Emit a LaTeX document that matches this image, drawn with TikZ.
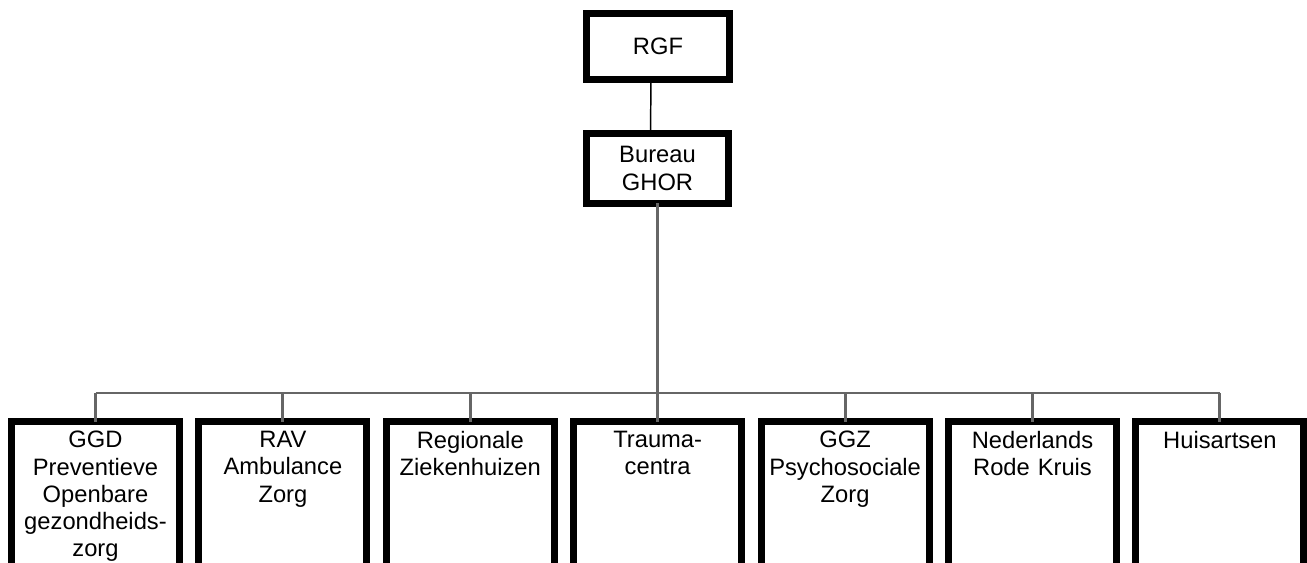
\documentclass[tikz,border=0pt]{standalone}
\usepackage{fontspec}
\setmainfont{Liberation Sans}
\usetikzlibrary{positioning}

\begin{document}
\begin{tikzpicture}[x=0.75pt,y=-0.75pt,font=\fontsize{17.8}{20.4}\selectfont,
    org/.style={draw=black, line width=5.25pt, fill=white, align=center, inner sep=0pt, outer sep=0pt},
    unit/.style={org, anchor=north, minimum width=126pt, text width=122pt, inner xsep=2pt, inner ysep=7.4pt, text depth=150pt},
    bus/.style={draw=black!60, line width=2.2pt},
    link/.style={draw=black, line width=1.1pt}]
  \useasboundingbox (0,0) rectangle (1307,563);
  \clip (0,0) rectangle (1307,563);
  % ---------- top ----------
  \node[org, minimum width=107pt, minimum height=49.5pt] (rgf)  at (658,46.5)  {RGF};
  \node[org, minimum width=106.5pt, minimum height=52.5pt] (ghor) at (657.5,168.5) {Bureau\\GHOR};
  % ---------- units ----------
  \node[unit] (ggd)    at (95.5,421.5)   {GGD\\Preventieve\\Openbare\\gezondheids-\\zorg};
  \node[unit] (rav)    at (282.9,421.5)  {RAV\\Ambulance\\Zorg};
  \node[unit] (zkh)    at (470.3,421.5)  {Regionale\\Ziekenhuizen};
  \node[unit] (trauma) at (657.7,421.5)  {Trauma-\\centra};
  \node[unit] (ggz)    at (845.1,421.5)  {GGZ\\Psychosociale\\Zorg};
  \node[unit] (nrk)    at (1032.5,421.5) {Nederlands\\Rode Kruis};
  \node[unit] (huis)   at (1219.9,421.5) {Huisartsen};
  % ---------- lines ----------
  \coordinate (hub) at (657.5,393);
  \draw[link] ([xshift=-5.25pt]rgf.south) -- ([xshift=-5.25pt]ghor.north);
  \draw[bus] (ghor.south) -- (hub);
  \draw[bus] (ggd.north |- hub) -- (huis.north |- hub);
  \draw[bus] (ggd.north |- hub) -- (ggd.north);
  \draw[bus] (rav.north |- hub) -- (rav.north);
  \draw[bus] (zkh.north |- hub) -- (zkh.north);
  \draw[bus] (trauma.north |- hub) -- (trauma.north);
  \draw[bus] (ggz.north |- hub) -- (ggz.north);
  \draw[bus] (nrk.north |- hub) -- (nrk.north);
  \draw[bus] (huis.north |- hub) -- (huis.north);
\end{tikzpicture}
\end{document}
